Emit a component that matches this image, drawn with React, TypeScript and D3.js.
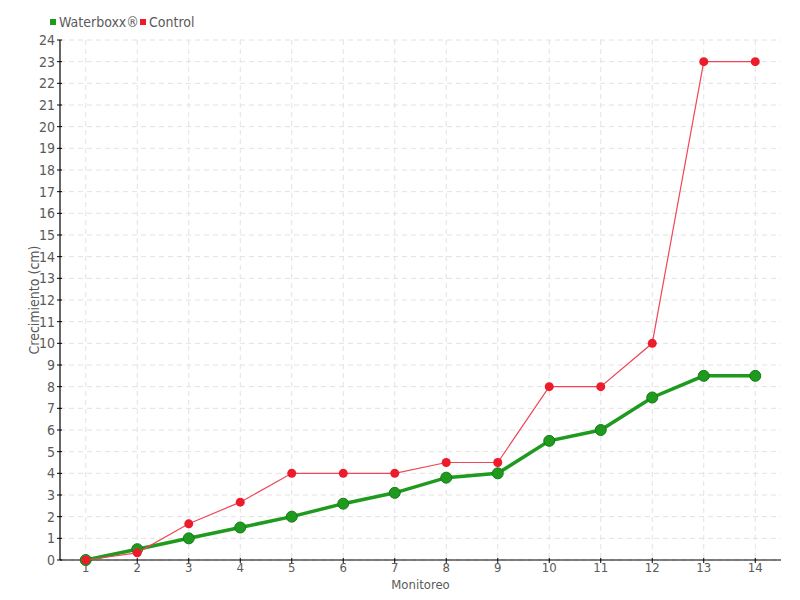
import React from "react";
import * as d3 from "d3";

const monitoreo = [1, 2, 3, 4, 5, 6, 7, 8, 9, 10, 11, 12, 13, 14];
const waterboxx = [0, 0.5, 1, 1.5, 2, 2.6, 3.1, 3.8, 4, 5.5, 6, 7.5, 8.5, 8.5];
const control = [0, 0.33, 1.67, 2.67, 4, 4, 4, 4.5, 4.5, 8, 8, 10, 23, 23];
const yTicks = d3.range(0, 25);
const seriesNames = ["Waterboxx®", "Control"];

const W = 800, H = 600;
const left = 60, right = 781, top = 40, bottom = 560;
const FONT = "'Liberation Sans Narrow', 'DejaVu Sans Condensed', 'Roboto Condensed', sans-serif";

export default function App() {
  const x = d3.scaleLinear().domain([0.5, 14.5]).range([left, right]);
  const y = d3.scaleLinear().domain([0, 24]).range([bottom, top]);
  const line = d3.line<number>().x((_, i) => x(monitoreo[i])).y((d) => y(d));
  const green = "#1e9a1e";
  const red = "#ec1c2c";
  return (
    <svg width={W} height={H} style={{ position: "absolute", left: 0, top: 0, fontFamily: FONT }}>
      <rect width={W} height={H} fill="#fff" />
      {yTicks.map((t) => (
        <line key={"gy" + t} x1={left} x2={right} y1={y(t)} y2={y(t)} stroke="#e2e2e2" strokeDasharray="5,4" />
      ))}
      {monitoreo.map((m) => (
        <line key={"gx" + m} x1={x(m)} x2={x(m)} y1={top} y2={bottom} stroke="#e2e2e2" strokeDasharray="5,4" />
      ))}
      <line x1={left} x2={left} y1={top} y2={bottom} stroke="#000" strokeWidth={1.2} />
      <line x1={left} x2={right} y1={bottom} y2={bottom} stroke="#000" strokeWidth={1.2} />
      {yTicks.map((t) => (
        <g key={"ty" + t}>
          <line x1={left - 3} x2={left + 2} y1={y(t)} y2={y(t)} stroke="#000" />
          <text x={left - 5} y={y(t)} dy="0.35em" textAnchor="end" fontSize={14} fill="#5a5a5a">{t}</text>
        </g>
      ))}
      {monitoreo.map((m) => (
        <g key={"tx" + m}>
          <line x1={x(m)} x2={x(m)} y1={bottom - 2} y2={bottom + 3} stroke="#000" />
          <text x={x(m)} y={bottom + 12} textAnchor="middle" fontSize={13} fill="#5a5a5a">{m}</text>
        </g>
      ))}
      <text x={(left + right) / 2} y={589} textAnchor="middle" fontSize={13} fill="#5a5a5a">Monitoreo</text>
      <text transform={`translate(39,${(top + bottom) / 2}) rotate(-90)`} textAnchor="middle" fontSize={14} fill="#5a5a5a">Crecimiento (cm)</text>
      <path d={line(waterboxx) || ""} fill="none" stroke={green} strokeWidth={3.5} />
      {waterboxx.map((v, i) => (
        <circle key={"w" + i} cx={x(monitoreo[i])} cy={y(v)} r={5.5} fill={green} stroke="#177a17" strokeWidth={1} />
      ))}
      <path d={line(control) || ""} fill="none" stroke="#f04658" strokeWidth={1.2} />
      {control.map((v, i) => (
        <circle key={"c" + i} cx={x(monitoreo[i])} cy={y(v)} r={4.5} fill={red} />
      ))}
      <rect x={50} y={19} width={6} height={6} fill={green} />
      <text x={59} y={22} dy="0.35em" fontSize={14} fill="#5a5a5a">{seriesNames[0]}</text>
      <rect x={140} y={19} width={6} height={6} fill={red} />
      <text x={149} y={22} dy="0.35em" fontSize={14} fill="#5a5a5a">{seriesNames[1]}</text>
    </svg>
  );
}
